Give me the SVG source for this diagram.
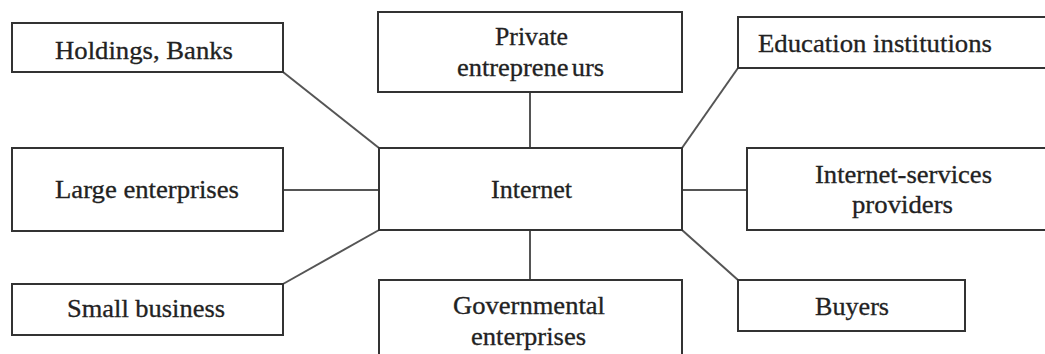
<svg xmlns="http://www.w3.org/2000/svg" width="1045" height="354" viewBox="0 0 1045 354">
<style>
.box{fill:#fff;stroke:#333;stroke-width:2}
.ln{stroke:#555;stroke-width:2;fill:none}
text{font-family:"Liberation Serif","Times New Roman",serif;font-size:25px;fill:#222;stroke:#222;stroke-width:0.3;text-anchor:middle}
</style>
<rect width="1045" height="354" fill="#fff"/>
<g id="connectors">
<line class="ln" x1="283" y1="72" x2="379" y2="148"/>
<line class="ln" x1="530" y1="92" x2="530" y2="148"/>
<line class="ln" x1="738" y1="68" x2="682" y2="148"/>
<line class="ln" x1="283" y1="190" x2="379" y2="190"/>
<line class="ln" x1="682" y1="190" x2="747" y2="190"/>
<line class="ln" x1="283" y1="284" x2="379" y2="230"/>
<line class="ln" x1="530" y1="230" x2="530" y2="280"/>
<line class="ln" x1="682" y1="230" x2="738" y2="280"/>
</g>
<g id="holdings">
<rect class="box" x="12" y="23" width="271" height="49"/>
<text x="144" y="59" textLength="178" lengthAdjust="spacingAndGlyphs">Holdings, Banks</text>
</g>
<g id="private">
<rect class="box" x="378" y="12" width="304" height="80"/>
<text x="531.5" y="45" textLength="73" lengthAdjust="spacingAndGlyphs">Private</text>
<text x="530.5" y="76" textLength="147" lengthAdjust="spacingAndGlyphs">entreprene<tspan dx="3">urs</tspan></text>
</g>
<g id="education">
<rect class="box" x="738" y="17" width="320" height="51"/>
<text x="875" y="52" textLength="234" lengthAdjust="spacingAndGlyphs">Education institutions</text>
</g>
<g id="large">
<rect class="box" x="12" y="148" width="271" height="83"/>
<text x="147" y="198" textLength="184" lengthAdjust="spacingAndGlyphs">Large enterprises</text>
</g>
<g id="internet">
<rect class="box" x="379" y="148" width="303" height="82"/>
<text x="531.5" y="198" textLength="81" lengthAdjust="spacingAndGlyphs">Internet</text>
</g>
<g id="isp">
<rect class="box" x="747" y="148" width="310" height="82"/>
<text x="903.5" y="183" textLength="177" lengthAdjust="spacingAndGlyphs">Internet-services</text>
<text x="902.5" y="213" textLength="101" lengthAdjust="spacingAndGlyphs">providers</text>
</g>
<g id="small">
<rect class="box" x="12" y="284" width="271" height="51"/>
<text x="146" y="317" textLength="158" lengthAdjust="spacingAndGlyphs">Small business</text>
</g>
<g id="governmental">
<rect class="box" x="379" y="280" width="303" height="90"/>
<text x="529" y="314" textLength="152" lengthAdjust="spacingAndGlyphs">Governmental</text>
<text x="528.5" y="345" textLength="115" lengthAdjust="spacingAndGlyphs">enterprises</text>
</g>
<g id="buyers">
<rect class="box" x="738" y="280" width="227" height="51"/>
<text x="852" y="315" textLength="74" lengthAdjust="spacingAndGlyphs">Buyers</text>
</g>
</svg>
